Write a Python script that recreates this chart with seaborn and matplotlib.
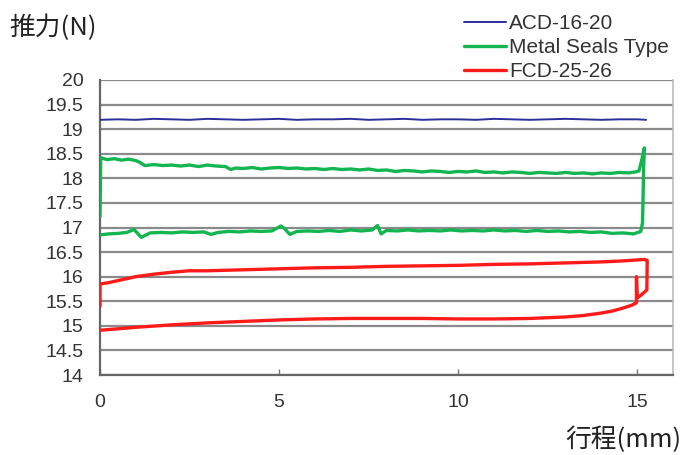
import numpy as np
import pandas as pd
import matplotlib
matplotlib.use('Agg')
import matplotlib.pyplot as plt
import seaborn as sns

# ACD-16-20 (flat, blue)
acd_x = [0.0, 0.5, 1.0, 1.5, 2.0, 2.5, 3.0, 3.5, 4.0, 4.5, 5.0, 5.5, 6.0, 6.5, 7.0, 7.5,
         8.0, 8.5, 9.0, 9.5, 10.0, 10.5, 11.0, 11.5, 12.0, 12.5, 13.0, 13.5, 14.0, 14.5,
         15.0, 15.25]
acd_y = [19.19, 19.20, 19.19, 19.21, 19.20, 19.19, 19.21, 19.20, 19.19, 19.20,
         19.21, 19.19, 19.20, 19.20, 19.21, 19.19, 19.20, 19.21, 19.19, 19.20,
         19.20, 19.19, 19.21, 19.20, 19.19, 19.20, 19.21, 19.20, 19.19, 19.20,
         19.20, 19.19]

# Metal Seals Type (loop, green): forward stroke on top, return on bottom
metal_x = [0.0, 0.02, 0.2, 0.4, 0.6, 0.8, 1.0, 1.1, 1.25, 1.5, 1.75, 2.0, 2.25, 2.5, 2.75,
           3.0, 3.25, 3.5, 3.65, 3.8, 4.0, 4.25, 4.5, 4.75, 5.0, 5.25, 5.5, 5.75, 6.0,
           6.25, 6.5, 6.75, 7.0, 7.25, 7.5, 7.75, 8.0, 8.25, 8.5, 8.75, 9.0, 9.25, 9.5,
           9.75, 10.0, 10.25, 10.5, 10.75, 11.0, 11.25, 11.5, 11.75, 12.0, 12.25, 12.5,
           12.75, 13.0, 13.25, 13.5, 13.75, 14.0, 14.25, 14.5, 14.75, 14.95, 15.05, 15.12,
           15.2, 15.18, 15.15, 15.1,
           14.9, 14.6, 14.3, 14.0, 13.7, 13.4, 13.1, 12.8, 12.5, 12.2, 11.9, 11.6, 11.3,
           11.0, 10.7, 10.4, 10.1, 9.8, 9.5, 9.2, 8.9, 8.6, 8.3, 8.0, 7.85, 7.75, 7.6,
           7.3, 7.0, 6.7, 6.4, 6.1, 5.8, 5.5, 5.3, 5.15, 5.05, 4.8, 4.5, 4.2, 3.9, 3.6,
           3.3, 3.1, 2.9, 2.6, 2.3, 2.0, 1.7, 1.4, 1.15, 0.95, 0.75, 0.5, 0.25, 0.0]
metal_y = [17.22, 18.42, 18.38, 18.40, 18.37, 18.39, 18.36, 18.33, 18.26, 18.28, 18.26,
           18.27, 18.25, 18.27, 18.24, 18.27, 18.25, 18.24, 18.18, 18.21, 18.20, 18.22,
           18.19, 18.21, 18.22, 18.20, 18.21, 18.19, 18.20, 18.18, 18.20, 18.18, 18.19,
           18.17, 18.19, 18.16, 18.17, 18.14, 18.16, 18.15, 18.13, 18.15, 18.14, 18.12,
           18.14, 18.13, 18.15, 18.12, 18.13, 18.11, 18.13, 18.12, 18.10, 18.12, 18.11,
           18.10, 18.12, 18.10, 18.11, 18.09, 18.11, 18.10, 18.12, 18.11, 18.13, 18.15,
           18.35, 18.62, 18.20, 17.10, 16.92,
           16.87, 16.89, 16.88, 16.91, 16.90, 16.92, 16.91, 16.93, 16.92, 16.94, 16.92,
           16.94, 16.93, 16.95, 16.93, 16.94, 16.93, 16.95, 16.93, 16.94, 16.93, 16.95,
           16.93, 16.94, 16.87, 17.04, 16.95, 16.93, 16.95, 16.92, 16.94, 16.92, 16.93,
           16.92, 16.86, 16.98, 17.03, 16.93, 16.92, 16.93, 16.91, 16.92, 16.90, 16.86,
           16.91, 16.90, 16.91, 16.89, 16.90, 16.89, 16.80, 16.96, 16.90, 16.88, 16.87,
           16.85]

# FCD-25-26 (loop, red)
fcd_x = [0.0, 0.0, 0.25, 0.5, 0.75, 1.0, 1.5, 2.0, 2.5, 3.0, 3.5, 4.0, 5.0, 6.0, 7.0,
         8.0, 9.0, 10.0, 11.0, 12.0, 13.0, 14.0, 14.6, 15.2, 15.28, 15.27, 15.1, 15.0,
         14.98, 14.98, 14.85, 14.6, 14.3, 14.0, 13.5, 13.0, 12.0, 11.0, 10.0, 9.0, 8.0,
         7.0, 6.0, 5.0, 4.0, 3.0, 2.0, 1.0, 0.0]
fcd_y = [15.40, 15.85, 15.88, 15.92, 15.96, 16.00, 16.05, 16.09, 16.12, 16.12, 16.13,
         16.14, 16.16, 16.18, 16.19, 16.21, 16.22, 16.23, 16.25, 16.26, 16.28, 16.30,
         16.32, 16.35, 16.33, 15.73, 15.62, 15.57, 16.00, 15.47, 15.42, 15.36, 15.30,
         15.26, 15.21, 15.18, 15.15, 15.14, 15.14, 15.15, 15.15, 15.15, 15.14, 15.12,
         15.09, 15.06, 15.02, 14.97, 14.91]

series = [
    ('ACD-16-20', acd_x, acd_y, '#2b2f9a', 1.4),
    ('Metal Seals Type', metal_x, metal_y, '#12b550', 2.4),
    ('FCD-25-26', fcd_x, fcd_y, '#ff1a1a', 2.4),
]

sns.set_style('white')
plt.rcParams['font.family'] = ['Liberation Sans', 'Noto Sans CJK JP', 'DejaVu Sans']

fig = plt.figure(figsize=(6.83, 4.55), dpi=100)
ax = fig.add_axes([100 / 683, 1 - 375 / 455, 573 / 683, 295 / 455])

for name, xs, ys, col, lw in series:
    df = pd.DataFrame({'x': xs, 'y': ys})
    sns.lineplot(data=df, x='x', y='y', sort=False, estimator=None,
                 color=col, linewidth=lw, label=name, ax=ax, zorder=3)

ax.set_xlim(0, 16)
ax.set_ylim(14, 20)
ax.set_xticks([0, 5, 10, 15])
ax.set_yticks(np.arange(14, 20.01, 0.5))
ax.set_yticklabels(['14', '14.5', '15', '15.5', '16', '16.5', '17', '17.5',
                    '18', '18.5', '19', '19.5', '20'])
ax.yaxis.grid(True, color='#8a8a8a', linewidth=1.6)
ax.xaxis.grid(False)
ax.set_axisbelow(True)
ax.tick_params(axis='y', length=0, pad=12, labelsize=14, labelcolor='#333333')
ax.tick_params(axis='x', direction='in', length=4, width=1, color='#777777',
               pad=14, labelsize=14, labelcolor='#333333', bottom=True)
for side in ['left', 'bottom']:
    ax.spines[side].set_color('#666666')
    ax.spines[side].set_linewidth(1.6)
ax.spines['right'].set_color('#bbbbbb')
ax.spines['right'].set_linewidth(1.2)
ax.spines['top'].set_visible(False)
ax.set_xlabel('')
ax.set_ylabel('')
ax.get_legend().remove()

fig.text(9 / 683, 1 - 28 / 455, '推力(N)', fontsize=18.5, va='center', ha='left',
         family=['Noto Sans CJK JP', 'DejaVu Sans'], color='#222222')
fig.text(681 / 683, 1 - 440 / 455, '行程(mm)', fontsize=18.5, va='center', ha='right',
         family=['Noto Sans CJK JP', 'DejaVu Sans'], color='#222222')

handles, labels = ax.get_legend_handles_labels()
leg = fig.legend(handles, labels, loc='upper left', bbox_to_anchor=(464 / 683, 1 - 14 / 455),
                 frameon=False, fontsize=15, handlelength=2.0, handletextpad=0.15,
                 labelspacing=0.25, borderaxespad=0, borderpad=0)
for t in leg.get_texts():
    t.set_color('#333333')

fig.savefig('out.png', dpi=100)
